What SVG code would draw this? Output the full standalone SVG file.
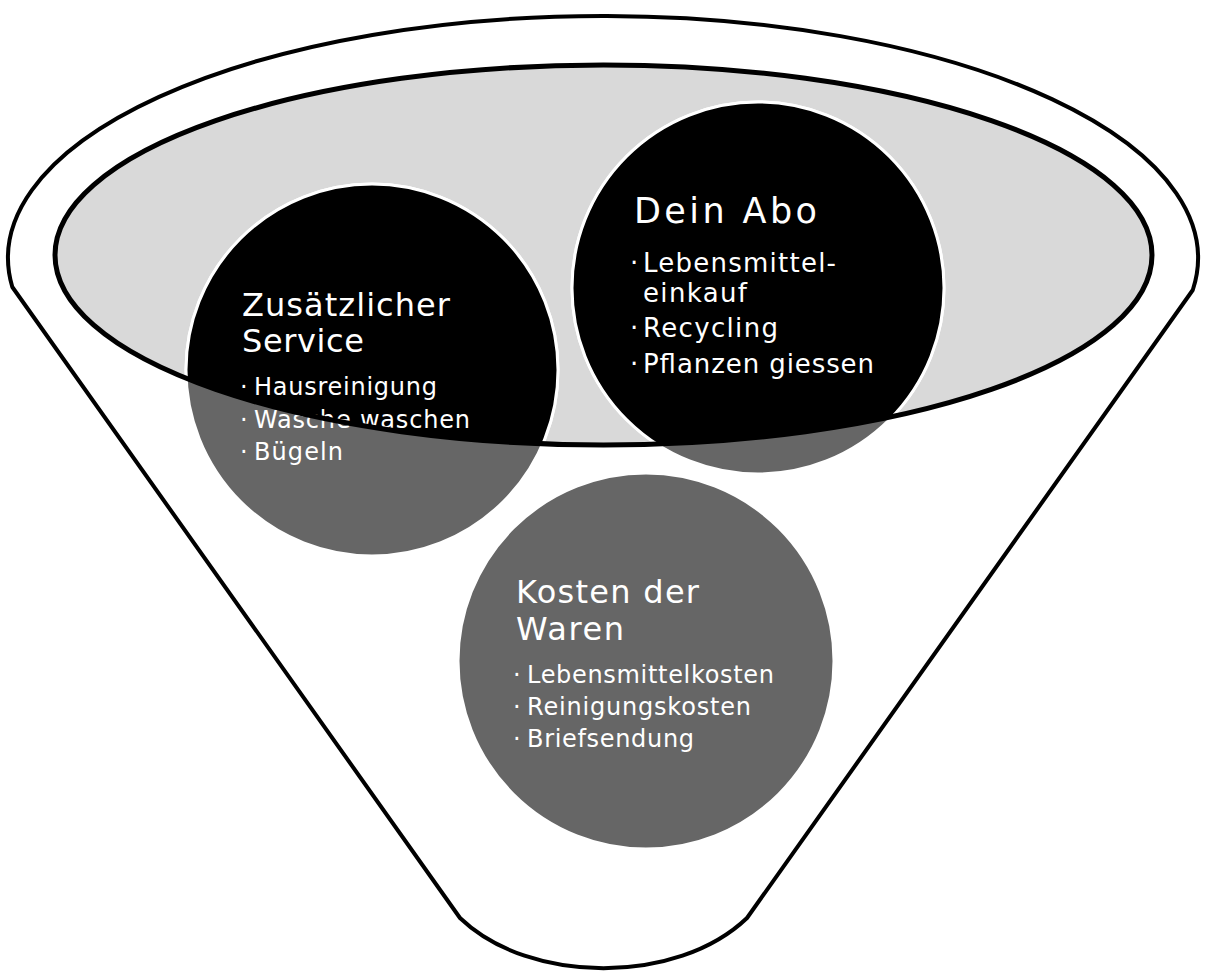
<svg xmlns="http://www.w3.org/2000/svg" width="1210" height="980" viewBox="0 0 1210 980">
<defs>
<style>
.funnel{fill:#ffffff;stroke:#000000;stroke-width:4;stroke-linejoin:round}
.bowl{fill:#d9d9d9}
.rim{fill:none;stroke:#000000;stroke-width:5}
.disc{stroke:#ffffff;stroke-width:3}
.grey{fill:#666666}
.dark{fill:#000000}
text{font-family:"DejaVu Sans","Liberation Sans",sans-serif;fill:#ffffff}
.t{font-size:32px}
.tb{font-size:35px}
.b{font-size:24px}
.bb{font-size:26px}
</style>
<clipPath id="bowlClip"><ellipse cx="603.5" cy="255" rx="548.5" ry="190"/></clipPath>
</defs>

<g id="funnel">
<path class="funnel" d="M12.3,287 A595,242 0 1 1 1192.8,290 L747,918 C677,985 530,985 460,918 Z"/>
<ellipse class="bowl" cx="603.5" cy="255" rx="548.5" ry="190"/>
</g>

<g id="zusatz">
<circle class="disc grey" cx="372" cy="370" r="186"/>
<circle class="disc dark" cx="372" cy="370" r="186" clip-path="url(#bowlClip)"/>
<text class="t" x="242" y="316" textLength="208" lengthAdjust="spacing">Zusätzlicher</text>
<text class="t" x="242" y="352" textLength="122" lengthAdjust="spacing">Service</text>
<text class="b" x="240" y="395">·</text>
<text class="b" x="254" y="395" textLength="183" lengthAdjust="spacing">Hausreinigung</text>
<text class="b" x="240" y="428">·</text>
<text class="b" x="254" y="428" textLength="216" lengthAdjust="spacing">Wasche waschen</text>
<text class="b" x="240" y="460">·</text>
<text class="b" x="254" y="460" textLength="89" lengthAdjust="spacing">Bügeln</text>
</g>

<g id="abo">
<circle class="disc grey" cx="758" cy="288" r="186"/>
<circle class="disc dark" cx="758" cy="288" r="186" clip-path="url(#bowlClip)"/>
<text class="tb" x="634" y="223" textLength="183" lengthAdjust="spacing">Dein Abo</text>
<text class="bb" x="630" y="272">·</text>
<text class="bb" x="643" y="272" textLength="193" lengthAdjust="spacing">Lebensmittel-</text>
<text class="bb" x="643" y="302" textLength="104" lengthAdjust="spacing">einkauf</text>
<text class="bb" x="630" y="337">·</text>
<text class="bb" x="643" y="337" textLength="135" lengthAdjust="spacing">Recycling</text>
<text class="bb" x="630" y="373">·</text>
<text class="bb" x="643" y="373" textLength="231" lengthAdjust="spacing">Pflanzen giessen</text>
</g>

<g id="kosten">
<circle class="disc grey" cx="646" cy="661" r="188"/>
<text class="t" x="516" y="603" textLength="183" lengthAdjust="spacing">Kosten der</text>
<text class="t" x="516" y="640" textLength="108" lengthAdjust="spacing">Waren</text>
<text class="b" x="513" y="683">·</text>
<text class="b" x="527" y="683" textLength="247" lengthAdjust="spacing">Lebensmittelkosten</text>
<text class="b" x="513" y="715">·</text>
<text class="b" x="527" y="715" textLength="224" lengthAdjust="spacing">Reinigungskosten</text>
<text class="b" x="513" y="747">·</text>
<text class="b" x="527" y="747" textLength="167" lengthAdjust="spacing">Briefsendung</text>
</g>

<g id="rim">
<ellipse class="rim" cx="603.5" cy="255" rx="548.5" ry="190"/>
</g>
</svg>
